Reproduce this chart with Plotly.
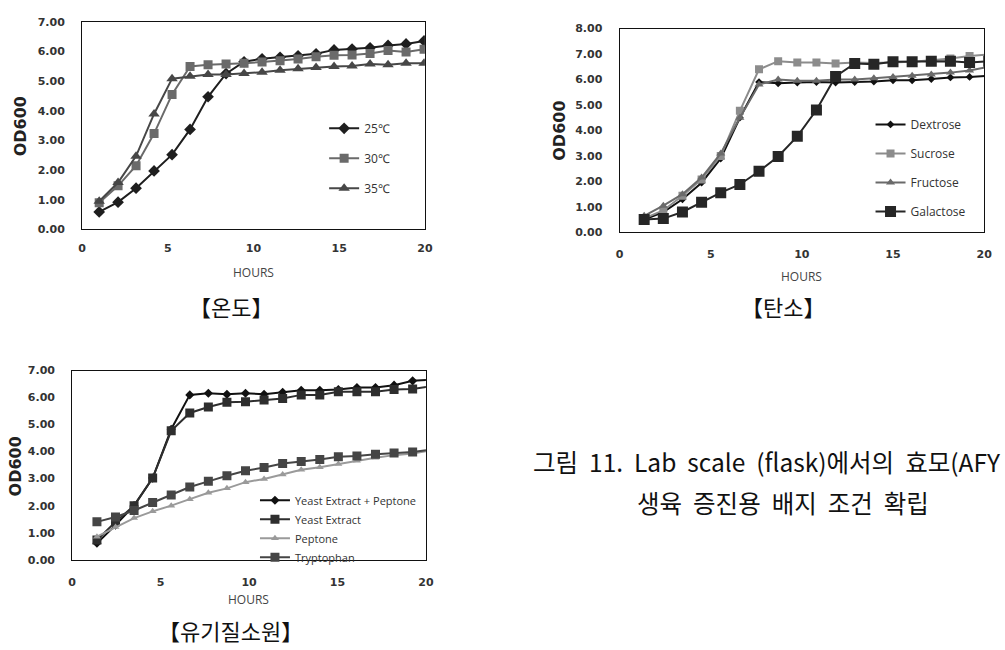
import plotly.graph_objects as go

# ---------------- data ----------------
hours_temp = [1.0, 2.1, 3.15, 4.2, 5.25, 6.3, 7.35, 8.4, 9.45, 10.5, 11.55, 12.6, 13.65, 14.7, 15.75, 16.8, 17.85, 18.9, 19.95]
od_25c = [0.59, 0.92, 1.39, 1.97, 2.52, 3.37, 4.47, 5.25, 5.65, 5.75, 5.80, 5.85, 5.92, 6.05, 6.08, 6.12, 6.20, 6.25, 6.35]
od_30c = [0.90, 1.47, 2.15, 3.23, 4.55, 5.49, 5.55, 5.57, 5.60, 5.64, 5.68, 5.74, 5.82, 5.87, 5.88, 5.93, 6.03, 5.98, 6.07]
od_35c = [0.95, 1.58, 2.47, 3.89, 5.08, 5.16, 5.22, 5.22, 5.25, 5.30, 5.36, 5.41, 5.46, 5.49, 5.51, 5.57, 5.55, 5.60, 5.60]

hours_carbon = [1.35, 2.4, 3.45, 4.5, 5.55, 6.6, 7.65, 8.7, 9.75, 10.8, 11.85, 12.9, 13.95, 15.0, 16.05, 17.1, 18.15, 19.2, 20.25]
od_dextrose = [0.50, 0.80, 1.30, 1.95, 2.90, 4.50, 5.90, 5.85, 5.88, 5.90, 5.88, 5.90, 5.92, 5.97, 5.97, 6.02, 6.08, 6.10, 6.15]
od_sucrose = [0.55, 0.86, 1.44, 2.08, 3.00, 4.77, 6.40, 6.72, 6.67, 6.67, 6.63, 6.67, 6.65, 6.67, 6.70, 6.76, 6.82, 6.92, 6.98]
od_fructose = [0.65, 1.05, 1.50, 2.15, 3.10, 4.50, 5.80, 6.00, 5.95, 5.95, 6.00, 6.00, 6.05, 6.10, 6.15, 6.20, 6.27, 6.35, 6.50]
od_galactose = [0.51, 0.54, 0.80, 1.18, 1.56, 1.88, 2.40, 2.98, 3.77, 4.80, 6.12, 6.63, 6.60, 6.70, 6.70, 6.72, 6.72, 6.67, 6.72]

hours_nitrogen = [1.4, 2.45, 3.5, 4.55, 5.6, 6.65, 7.7, 8.75, 9.8, 10.85, 11.9, 12.95, 14.0, 15.05, 16.1, 17.15, 18.2, 19.25, 20.3]
od_ye_pep = [0.61, 1.28, 2.00, 3.02, 4.83, 6.10, 6.16, 6.12, 6.16, 6.12, 6.20, 6.27, 6.27, 6.30, 6.37, 6.37, 6.46, 6.62, 6.66]
od_ye = [0.73, 1.40, 2.00, 3.02, 4.77, 5.43, 5.65, 5.83, 5.85, 5.91, 5.97, 6.10, 6.10, 6.22, 6.22, 6.22, 6.30, 6.32, 6.42]
od_peptone = [0.85, 1.21, 1.54, 1.79, 2.00, 2.24, 2.48, 2.64, 2.87, 2.99, 3.15, 3.33, 3.42, 3.54, 3.66, 3.77, 3.87, 3.93, 4.05]
od_tryptophan = [1.40, 1.58, 1.82, 2.12, 2.39, 2.69, 2.90, 3.11, 3.29, 3.41, 3.56, 3.63, 3.71, 3.81, 3.84, 3.90, 3.95, 3.99, 4.08]

x_ticks = [0, 5, 10, 15, 20]
y_ticks_7 = [0, 1, 2, 3, 4, 5, 6, 7]
y_ticks_8 = [0, 1, 2, 3, 4, 5, 6, 7, 8]

panel_captions = ["【온도】", "【탄소】", "【유기질소원】"]
axis_x_title = "HOURS"
axis_y_title = "OD600"
caption_line1 = "그림\u00a0 11.\u00a0 Lab\u00a0 scale\u00a0 (flask)에서의\u00a0 효모(AFY"
caption_line2 = "생육\u00a0 증진용\u00a0 배지\u00a0 조건\u00a0 확립"

# ---------------- figure ----------------
fig = go.Figure()

def add(x, y, name, color, symbol, size, xa, ya, leg, lw=2):
    fig.add_trace(go.Scatter(
        x=x, y=y, name=name, mode="lines+markers",
        line=dict(color=color, width=lw),
        marker=dict(symbol=symbol, size=size, color=color),
        xaxis=xa, yaxis=ya, legend=leg, legendgroup=name,
    ))

add(hours_temp, od_25c, "25℃", "#1e1e1e", "diamond", 9, "x", "y", "legend")
add(hours_temp, od_30c, "30℃", "#6a6a6a", "square", 9, "x", "y", "legend")
add(hours_temp, od_35c, "35℃", "#474747", "triangle-up", 10, "x", "y", "legend")

add(hours_carbon, od_dextrose, "Dextrose", "#111111", "diamond", 6, "x2", "y2", "legend2")
add(hours_carbon, od_sucrose, "Sucrose", "#8c8c8c", "square", 8, "x2", "y2", "legend2")
add(hours_carbon, od_fructose, "Fructose", "#6a6a6a", "triangle-up", 8, "x2", "y2", "legend2")
add(hours_carbon, od_galactose, "Galactose", "#262626", "square", 11, "x2", "y2", "legend2")

add(hours_nitrogen, od_ye_pep, "Yeast Extract + Peptone", "#111111", "diamond", 7, "x3", "y3", "legend3")
add(hours_nitrogen, od_ye, "Yeast Extract", "#2e2e2e", "square", 9, "x3", "y3", "legend3")
add(hours_nitrogen, od_peptone, "Peptone", "#9a9a9a", "triangle-up", 7, "x3", "y3", "legend3")
add(hours_nitrogen, od_tryptophan, "Tryptophan", "#454545", "square", 9, "x3", "y3", "legend3")

W, H = 1005, 650
def px(v):
    return v / W
def py(v):
    return (H - v) / H

tick_font = dict(family="DejaVu Sans", size=11, color="#333333", weight="bold")

def xaxis(domain, anchor, standoff):
    return dict(domain=domain, anchor=anchor, range=[0, 20], tickvals=x_ticks,
                showgrid=False, zeroline=False, showline=True, linecolor="#111111",
                linewidth=1, mirror=True, ticks="", tickfont=tick_font,
                ticklabelstandoff=standoff, fixedrange=True)

def yaxis(domain, anchor, rng, vals, standoff):
    return dict(domain=domain, anchor=anchor, range=rng, tickvals=vals,
                ticktext=[f"{v:.2f}" for v in vals],
                showgrid=False, zeroline=False, showline=True, linecolor="#111111",
                linewidth=1, mirror=True, ticks="", tickfont=tick_font,
                ticklabelstandoff=standoff, fixedrange=True)

legend_font = dict(family="Open Sans", size=12, color="#333333")

fig.update_layout(
    width=W, height=H, margin=dict(l=0, r=0, t=0, b=0),
    paper_bgcolor="white", plot_bgcolor="white",
    xaxis=xaxis([px(79), px(426)], "y", 8),
    yaxis=yaxis([py(228), py(16)], "x", [0, 7], y_ticks_7, 14),
    xaxis2=xaxis([px(623), px(992)], "y2", 11),
    yaxis2=yaxis([py(231), py(23)], "x2", [0, 8], y_ticks_8, 14),
    xaxis3=xaxis([px(69), px(427)], "y3", 12),
    yaxis3=yaxis([py(565), py(372)], "x3", [0, 7], y_ticks_7, 14),
    legend=dict(x=px(324), y=py(110), xanchor="left", yanchor="top",
                bgcolor="rgba(0,0,0,0)", font=legend_font, tracegroupgap=11),
    legend2=dict(x=px(877), y=py(106), xanchor="left", yanchor="top",
                 bgcolor="rgba(0,0,0,0)", font=legend_font, tracegroupgap=10),
    legend3=dict(x=px(254), y=py(489.5), xanchor="left", yanchor="top",
                 bgcolor="rgba(0,0,0,0)", font=dict(family="Open Sans", size=11, color="#333333"),
                 tracegroupgap=0),
    showlegend=True,
)

ann = []
title_font = dict(family="DejaVu Sans", size=16, color="#222222", weight="bold")
hours_font = dict(family="Open Sans", size=12, color="#444444")
for (xc, yc) in [(17, 123), (562, 127), (12, 470)]:
    ann.append(dict(x=px(xc), y=py(yc), xref="paper", yref="paper", text=axis_y_title,
                    textangle=-90, showarrow=False, font=title_font,
                    xanchor="center", yanchor="middle"))
for (xc, yc) in [(253, 272), (807, 276), (247, 606)]:
    ann.append(dict(x=px(xc), y=py(yc), xref="paper", yref="paper", text=axis_x_title,
                    showarrow=False, font=hours_font, xanchor="center", yanchor="middle"))
cap_font = dict(family="Noto Sans CJK KR", size=22, color="#111111")
for txt, (xc, yc) in zip(panel_captions, [(230, 306), (788, 306), (229, 637)]):
    ann.append(dict(x=px(xc), y=py(yc), xref="paper", yref="paper", text=txt,
                    showarrow=False, font=cap_font, xanchor="center", yanchor="middle"))
main_font = dict(family="Noto Sans CJK KR", size=24.5, color="#111111")
ann.append(dict(x=px(533), y=py(465), xref="paper", yref="paper", text=caption_line1,
                showarrow=False, font=main_font, xanchor="left", yanchor="middle"))
ann.append(dict(x=px(788), y=py(507), xref="paper", yref="paper", text=caption_line2,
                showarrow=False, font=main_font, xanchor="center", yanchor="middle"))
fig.update_layout(annotations=ann)

fig.write_html("out.html", config={"displayModeBar": False})
